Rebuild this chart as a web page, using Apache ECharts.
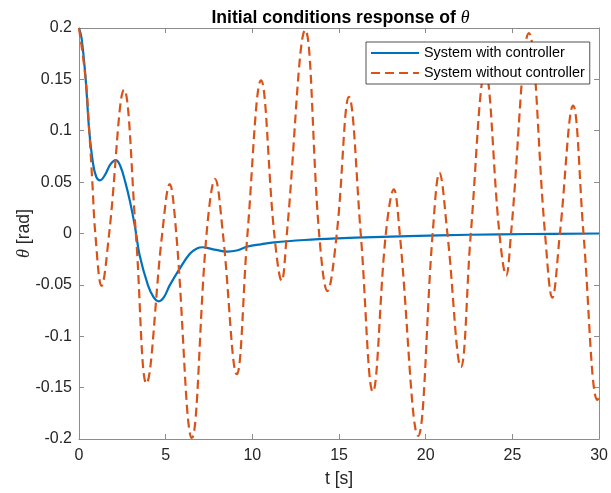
<!DOCTYPE html>
<html>
<head>
<meta charset="utf-8">
<script src="https://cdn.jsdelivr.net/npm/echarts@6/dist/echarts.min.js"></script>
<style>
  html, body { margin: 0; padding: 0; background: #fff; }
  #chart { width: 611px; height: 493px; }
</style>
</head>
<body>
<div id="chart"></div>
<script>
// Closed-loop response: time (s) and pitch angle theta (rad)
const tWith = [0, 0.15, 0.385, 0.59, 0.82, 1.0, 1.21, 1.5, 1.8, 2.13, 2.4, 2.67, 2.93, 3.22, 3.5, 3.98, 4.3, 4.6, 4.9, 5.23, 5.8, 6.38, 6.8, 7.15, 7.5, 7.91, 8.54, 9.1, 9.73, 10.5, 11.26, 13.0, 14.9, 17, 19, 22.5, 26, 30];
const thetaWith = [0.2, 0.19, 0.15, 0.1, 0.067, 0.055, 0.0518, 0.057, 0.067, 0.0715, 0.065, 0.05, 0.032, 0.0076, -0.0215, -0.0505, -0.062, -0.066, -0.062, -0.0505, -0.0344, -0.0199, -0.0145, -0.0134, -0.0145, -0.016, -0.0176, -0.0165, -0.0127, -0.0105, -0.0086, -0.0063, -0.0047, -0.0035, -0.0025, -0.0012, -0.0005, 0];

// Open-loop response: peaks, troughs and zero crossings
const tWithout = [0, 0.385, 0.59, 0.77, 0.94, 1.30, 1.74, 2.6, 3.28, 3.89, 4.8, 5.23, 5.61, 6.51, 7.36, 7.85, 8.3, 9.10, 9.72, 10.5, 11.26, 11.69, 11.99, 13.05, 13.85, 14.33, 14.87, 15.57, 16.25, 16.95, 17.7, 18.16, 18.5, 19.56, 20.4, 20.79, 21.25, 22.03, 22.6, 23.43, 24.25, 24.64, 24.92, 25.95, 26.88, 27.3, 27.74, 28.5, 29.1, 29.9, 30];
const thetaWithout = [0.2, 0.15, 0.1, 0.05, 0, -0.051, 0, 0.14, 0, -0.146, 0, 0.048, 0, -0.199, 0, 0.053, 0, -0.137, 0, 0.149, 0, -0.046, 0, 0.198, 0, -0.056, 0, 0.133, 0, -0.154, 0, 0.043, 0, -0.197, 0, 0.059, 0, -0.130, 0, 0.158, 0, -0.041, 0, 0.195, 0, -0.0625, 0, 0.1245, 0, -0.162, -0.160];

const xTicks = [0, 5, 10, 15, 20, 25, 30];
const yTicks = [-0.2, -0.15, -0.1, -0.05, 0, 0.05, 0.1, 0.15, 0.2];
const seriesNames = ['System with controller', 'System without controller'];
const seriesColors = ['#0072BD', '#D95319'];

const SANS = "'Liberation Sans', Arial, Helvetica, sans-serif";
const SERIF = "'Liberation Serif', 'DejaVu Serif', serif";
const AXIS_COLOR = '#8c8c8c';
const TEXT_COLOR = '#262626';

const xStep = +(xTicks[1] - xTicks[0]).toFixed(6);
const yStep = +(yTicks[1] - yTicks[0]).toFixed(6);

const pairs = (xs, ys) => xs.map((x, i) => [x, ys[i]]);

function baseX(extra) {
  return Object.assign({
    type: 'value',
    min: xTicks[0],
    max: xTicks[xTicks.length - 1],
    interval: xStep,
    splitLine: { show: false },
    axisLine: { show: true, onZero: false, lineStyle: { color: AXIS_COLOR, width: 1 } },
    axisTick: { show: true, inside: true, length: 5, lineStyle: { color: AXIS_COLOR, width: 1 } }
  }, extra);
}
function baseY(extra) {
  return Object.assign({
    type: 'value',
    min: yTicks[0],
    max: yTicks[yTicks.length - 1],
    interval: yStep,
    splitLine: { show: false },
    axisLine: { show: true, onZero: false, lineStyle: { color: AXIS_COLOR, width: 1 } },
    axisTick: { show: true, inside: true, length: 5, lineStyle: { color: AXIS_COLOR, width: 1 } }
  }, extra);
}

const chart = echarts.init(document.getElementById('chart'), null, { renderer: 'canvas' });

chart.setOption({
  animation: false,
  backgroundColor: '#ffffff',
  title: {
    text: '{b|Initial conditions response of }{i|θ}',
    left: 340.5,
    top: 9,
    padding: 0,
    textAlign: 'center',
    textStyle: {
      fontSize: 17.6,
      fontWeight: 'bold',
      fontFamily: SANS,
      color: '#000',
      rich: {
        b: { fontSize: 17.6, fontWeight: 'bold', fontFamily: SANS, color: '#000' },
        i: { fontSize: 18, fontStyle: 'italic', fontWeight: 'normal', fontFamily: SERIF, color: '#000' }
      }
    }
  },
  grid: { left: 79, right: 9, top: 28, bottom: 52, containLabel: false },
  legend: {
    orient: 'vertical',
    left: 366,
    top: 42,
    itemWidth: 48,
    itemHeight: 14,
    itemGap: 6,
    padding: [4, 5, 4, 4],
    backgroundColor: '#ffffff',
    borderColor: '#262626',
    borderWidth: 0.8,
    borderRadius: 0,
    selectedMode: false,
    data: seriesNames,
    itemStyle: { opacity: 0 },
    textStyle: { fontSize: 14.4, color: '#000', fontFamily: SANS }
  },
  xAxis: [
    baseX({
      position: 'bottom',
      name: 't [s]',
      nameLocation: 'middle',
      nameGap: 31,
      nameMoveOverlap: false,
      nameTextStyle: { fontSize: 17.6, color: TEXT_COLOR, fontFamily: SANS },
      axisLabel: { show: true, fontSize: 16, color: TEXT_COLOR, fontFamily: SANS, margin: 9 }
    }),
    baseX({ position: 'top', axisLabel: { show: false } })
  ],
  yAxis: [
    baseY({
      position: 'left',
      name: '{i|θ} [rad]',
      nameLocation: 'middle',
      nameGap: 46,
      nameMoveOverlap: false,
      nameTextStyle: {
        fontSize: 17.6, color: TEXT_COLOR, fontFamily: SANS,
        rich: { i: { fontSize: 18, fontStyle: 'italic', fontFamily: SERIF, color: TEXT_COLOR } }
      },
      axisLabel: { show: true, fontSize: 16, color: TEXT_COLOR, fontFamily: SANS, margin: 7 }
    }),
    baseY({ position: 'right', axisLabel: { show: false } })
  ],
  series: [
    {
      name: seriesNames[0],
      type: 'line',
      xAxisIndex: 0,
      yAxisIndex: 0,
      data: pairs(tWith, thetaWith),
      showSymbol: false,
      symbol: 'none',
      smooth: 0.4,
      lineStyle: { color: seriesColors[0], width: 2.2, type: 'solid' },
      itemStyle: { color: seriesColors[0] },
      z: 2
    },
    {
      name: seriesNames[1],
      type: 'line',
      xAxisIndex: 0,
      yAxisIndex: 0,
      data: pairs(tWithout, thetaWithout),
      showSymbol: false,
      symbol: 'none',
      smooth: 0.4,
      lineStyle: { color: seriesColors[1], width: 2.2, type: [9, 5] },
      itemStyle: { color: seriesColors[1] },
      z: 3
    }
  ]
});
</script>
</body>
</html>
